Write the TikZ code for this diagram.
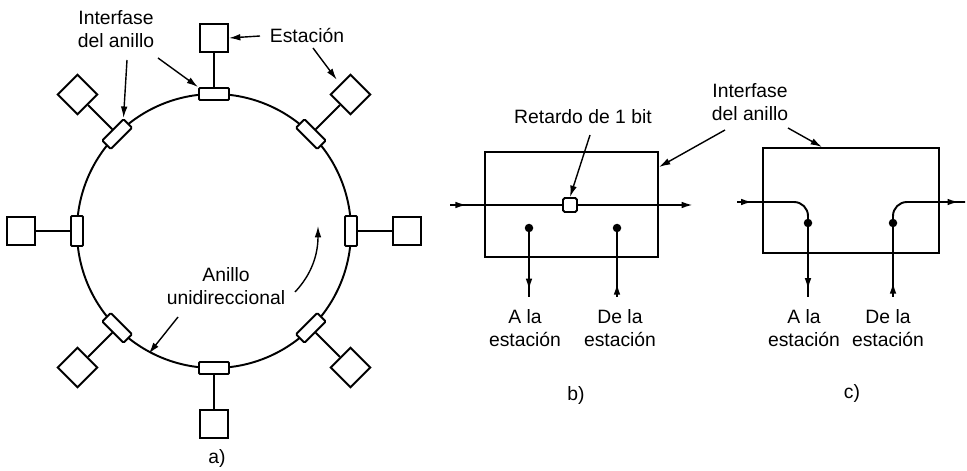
\documentclass[tikz,border=0pt]{standalone}
\usepackage{fontspec}
\setmainfont{Liberation Sans}
\usetikzlibrary{calc,arrows.meta,decorations.markings}

\tikzset{
	linea/.style={line width=1.1pt},
	flecha/.style={line width=0.8pt, -{Latex[length=6.5pt,width=3.8pt]}},
	flechamedio/.style={line width=1.1pt, postaction={decorate},
		decoration={markings, mark=at position #1 with {\arrow{Latex[length=6.5pt,width=3.8pt]}}}},
	interfase/.style={draw, line width=1.1pt, fill=white, rounded corners=0.6pt,
		inner sep=0pt, minimum width=0.6cm, minimum height=0.24cm},
	estacion/.style={draw, line width=1.1pt, fill=white, inner sep=0pt, minimum size=0.56cm},
	texto/.style={align=center, inner sep=0pt, font=\fontsize{11}{13}\selectfont},
	punto/.style={circle, fill=black, inner sep=0pt, minimum size=0.17cm},
	caja/.style={draw, line width=1.1pt, inner sep=0pt}
}

\begin{document}
\begin{tikzpicture}[x=0.02cm, y=0.02cm]
			\useasboundingbox (0,0) rectangle (967,470);
			
			%%%%% a) anillo %%%%%
			\coordinate (centro) at (214,239);
			\draw[linea] (centro) circle (137);
			
			\foreach \a in {90,45,0,-45,-90,-135,180,135} {
				\node[interfase, rotate=\a-90] (int\a) at ($(centro)+(\a:137)$) {};
				\node[estacion, rotate=\a-90] (est\a) at ($(centro)+(\a:193)$) {};
				\draw[linea] (int\a) -- (est\a);
			}
			
			\node[texto] (lblint) at (116,441) {Interfase\\del anillo};
			\draw[flecha] (127,410) -- (int135.north east);
			\draw[flecha] (158,412) -- (int90.north west);
			
			\node[texto] (lblest) at (307,435) {Estación};
			\draw[flecha] (260,434) -- (est90.east);
			\draw[flecha, shorten >=3pt] (313,422) -- (est45.west);
			
			\node[texto] (lblanillo) at (226,184) {Anillo\\unidireccional};
			\coordinate (pAnillo) at ($(centro)+(242:139)$);
			\draw[flecha] (178,153) -- (pAnillo);
			\draw[flecha] (295,178) .. controls (312,196) and (318,216) .. (318,244);
			
			\node[texto] (lbla) at (217,12) {a)};
			
			%%%%% b) retardo de 1 bit %%%%%
			\node[caja, minimum width=3.46cm, minimum height=2.1cm] (cajaB) at (571.5,265.5) {};
			\node[caja, rounded corners=1pt, fill=white, minimum size=0.28cm] (retardo) at (570,265) {};
			\coordinate (entB) at (450,265);
			\coordinate (salB) at (693,265);
			\draw[flechamedio=0.15] (entB) -- (retardo.west);
			\draw[flecha, line width=1.1pt] (retardo.east) -- (salB);
			
			\node[punto] (ptBa) at (529,242) {};
			\node[punto] (ptBd) at (617,242) {};
			\coordinate (finBa) at (529,173);
			\coordinate (finBd) at (617,173);
			\draw[flechamedio=0.9] (ptBa.center) -- (finBa);
			\draw[flechamedio=0.2] (finBd) -- (ptBd.center);
			
			\node[texto] (lblBa) at (525,142) {A la\\estación};
			\node[texto] (lblBd) at (620,142) {De la\\estación};
			\node[texto] (lblret) at (583,353) {Retardo de 1 bit};
			\draw[flecha] (590,335) -- (retardo.north);
			\node[texto] (lblb) at (576,75) {b)};
			
			%%%%% c) interfase desconectada %%%%%
			\node[caja, minimum width=3.52cm, minimum height=2.1cm] (cajaC) at (851,269.5) {};
			\node[punto] (ptCa) at (808,247) {};
			\node[punto] (ptCd) at (893,247) {};
			\coordinate (entC) at (737,268);
			\coordinate (salC) at (965,268);
			\coordinate (finCa) at (808,173);
			\coordinate (finCd) at (893,173);
			\draw[flechamedio=0.18, rounded corners=0.28cm] (entC) -- (entC -| ptCa) -- (ptCa.center);
			\draw[flechamedio=0.9] (ptCa.center) -- (finCa);
			\draw[flechamedio=0.2] (finCd) -- (ptCd.center);
			\draw[flechamedio=0.93, rounded corners=0.28cm] (ptCd.center) -- (ptCd |- salC) -- (salC);
			
			\node[texto] (lblCa) at (804,142) {A la\\estación};
			\node[texto] (lblCd) at (888,142) {De la\\estación};
			\node[texto] (lblc) at (852,77) {c)};
			
			\node[texto] (lblintB) at (750,368) {Interfase\\del anillo};
			\draw[flecha] (725,340) -- ($(cajaB.north east)+(0,-16)$);
			\draw[flecha] (788,342) -- ($(cajaC.north)+(-29,0)$);
			
			%%%%% END %%%%%
\end{tikzpicture}
\end{document}
